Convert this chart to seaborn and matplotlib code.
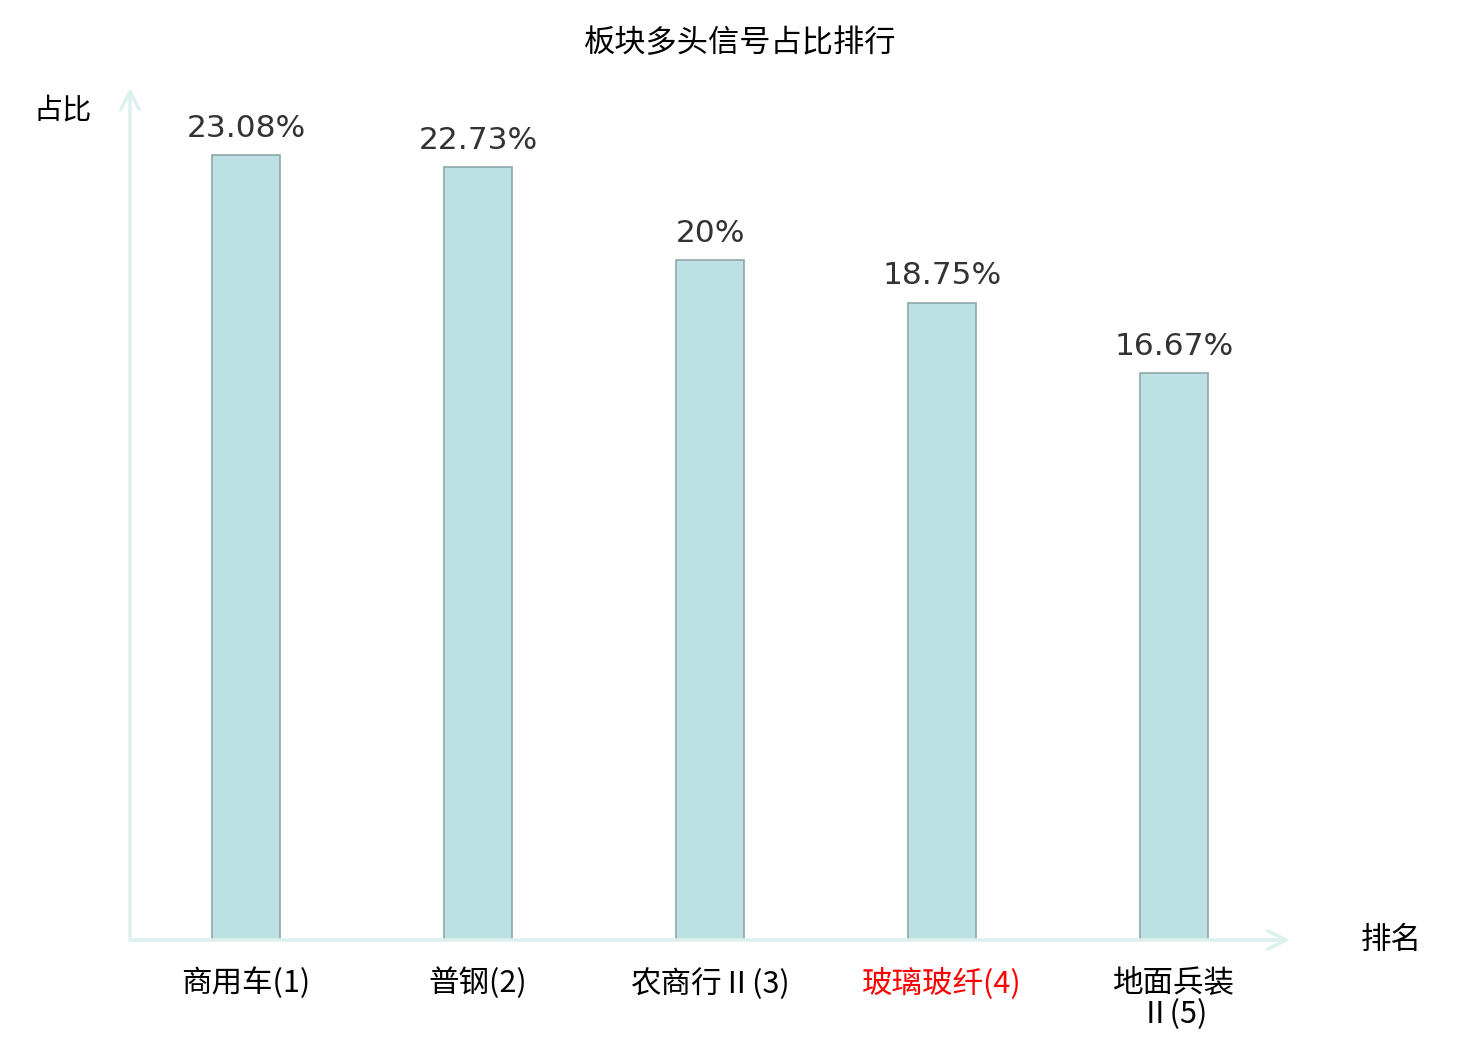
import matplotlib
matplotlib.use("Agg")
import matplotlib.pyplot as plt
import seaborn as sns
import pandas as pd

# 板块多头信号占比排行
categories = ["商用车(1)", "普钢(2)", "农商行Ⅱ(3)", "玻璃玻纤(4)", "地面兵装\nⅡ(5)"]
values = [23.08, 22.73, 20.0, 18.75, 16.67]
value_labels = ["23.08%", "22.73%", "20%", "18.75%", "16.67%"]
label_colors = ["black", "black", "black", "red", "black"]

sns.set_theme(style="white")
plt.rcParams['font.family'] = ['Noto Sans CJK SC', 'DejaVu Sans']

df = pd.DataFrame({"板块": categories, "占比": values})

fig = plt.figure(figsize=(14.8, 10.4), dpi=100)
ax = fig.add_axes([130 / 1480, 100 / 1040, 1160 / 1480, 850 / 1040])

sns.barplot(data=df, x="板块", y="占比", color="#bce0e3", saturation=1,
            edgecolor="#8fa8a8", linewidth=1.2, width=0.293, ax=ax)

ax.set_xlim(-0.5, 4.5)
ax.set_ylim(0, 25)
for s in ax.spines.values():
    s.set_visible(False)
ax.set_yticks([])
ax.set_xlabel("")
ax.set_ylabel("")
ax.tick_params(axis="x", length=0, pad=20)
ax.set_xticks(range(len(categories)))
ax.set_xticklabels(categories, fontsize=22, linespacing=1.0)
for lbl, c in zip(ax.get_xticklabels(), label_colors):
    lbl.set_color(c)

for i, (v, t) in enumerate(zip(values, value_labels)):
    ax.annotate(t, (i, v), xytext=(0, 9), textcoords="offset points",
                ha="center", va="bottom", fontsize=22.5, color="#333333",
                family="DejaVu Sans")

axis_color = "#dcf1ee"
arrow = "->,head_length=1.1,head_width=0.55"
ax.annotate("", xy=(1.0, 0), xytext=(0, 0), xycoords="axes fraction",
            arrowprops=dict(arrowstyle=arrow, color=axis_color, lw=2.5,
                            shrinkA=0, shrinkB=0),
            annotation_clip=False)
ax.annotate("", xy=(0, 1.003), xytext=(0, 0), xycoords="axes fraction",
            arrowprops=dict(arrowstyle=arrow, color=axis_color, lw=2.5,
                            shrinkA=0, shrinkB=0),
            annotation_clip=False)

ax.text(1.087, 0, "排名", transform=ax.transAxes, ha="center", va="center",
        fontsize=22, color="black")
ax.text(-0.058, 0.976, "占比", transform=ax.transAxes, ha="center", va="center",
        fontsize=21, color="black")

fig.text(0.5, 1 - 43 / 1040, "板块多头信号占比排行", ha="center", va="center",
         fontsize=22.5, color="black")

fig.savefig("out.png", dpi=100)
